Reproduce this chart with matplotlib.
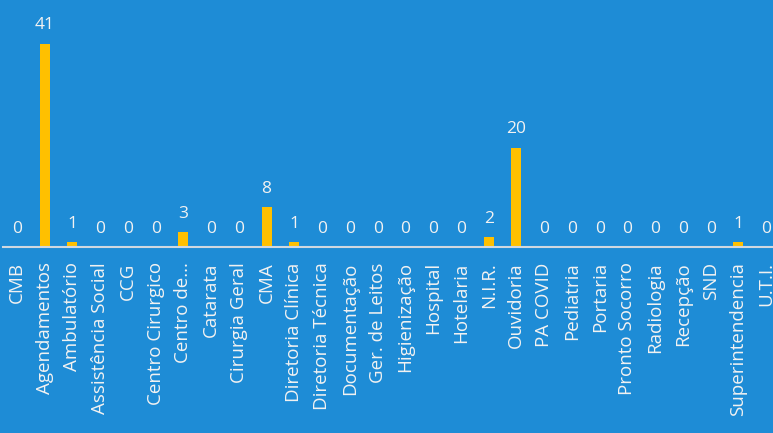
import matplotlib.pyplot as plt

setores = ['CMB', 'Agendamentos', 'Ambulatório', 'Assistência Social', 'CCG',
           'Centro Cirurgico', 'Centro de...', 'Catarata', 'Cirurgia Geral', 'CMA',
           'Diretoria Clínica', 'Diretoria Técnica', 'Documentação', 'Ger. de Leitos',
           'Higienização', 'Hospital', 'Hotelaria', 'N.I.R.', 'Ouvidoria', 'PA COVID',
           'Pediatria', 'Portaria', 'Pronto Socorro', 'Radiologia', 'Recepção', 'SND',
           'Superintendencia', 'U.T.I.']
quantidade = [0, 41, 1, 0, 0, 0, 3, 0, 0, 8, 1, 0, 0, 0, 0, 0, 0, 2, 20, 0,
              0, 0, 0, 0, 0, 0, 1, 0]

bg = '#1E8CD6'
txt = '#F2F2F2'

fig = plt.figure(figsize=(7.73, 4.33), dpi=100, facecolor=bg)
ax = fig.add_axes([3 / 773, 186 / 433, 777 / 773, 223 / 433])
ax.set_facecolor(bg)

x = range(len(setores))
ax.bar(x, quantidade, width=0.36, color='#FFC000', zorder=2)
for i, v in zip(x, quantidade):
    ax.annotate(str(v), (i, v), xytext=(0, 7.5), textcoords='offset points',
                ha='center', va='bottom', color=txt, fontsize=12.5, family='Open Sans')

ax.set_xlim(-0.5, len(setores) - 0.5)
ax.set_ylim(0, 45)
ax.set_xticks(list(x))
ax.set_xticklabels(setores, rotation=90, color=txt, fontsize=13.5, family='Open Sans')
ax.tick_params(axis='x', length=0, pad=11)
ax.set_yticks([])
for s in ['top', 'right', 'left']:
    ax.spines[s].set_visible(False)
ax.spines['bottom'].set_color('#D0D8E0')
ax.spines['bottom'].set_linewidth(1.5)

fig.savefig('out.png', dpi=100, facecolor=bg)
